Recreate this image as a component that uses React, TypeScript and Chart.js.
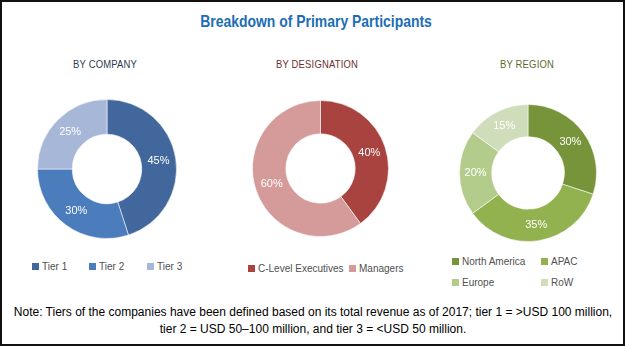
import React, { useEffect, useRef } from "react";
import { Chart, registerables } from "chart.js";

Chart.register(...registerables);

const titleText = "Breakdown of Primary Participants";

const companyTitle = "BY COMPANY";
const companyLabels = ["Tier 1", "Tier 2", "Tier 3"];
const companyValues = [45, 30, 25];
const companyColors = ["#41679C", "#4B7DBD", "#A7B7D7"];

const designationTitle = "BY DESIGNATION";
const designationLabels = ["C-Level Executives", "Managers"];
const designationValues = [40, 60];
const designationColors = ["#A8433F", "#D59A9A"];

const regionTitle = "BY REGION";
const regionLabels = ["North America", "APAC", "Europe", "RoW"];
const regionValues = [30, 35, 20, 15];
const regionColors = ["#78943A", "#92B24F", "#B4CC8B", "#D0DDBB"];

const noteLines = [
  "Note: Tiers of the companies have been defined based on its total revenue as of 2017; tier 1 = >USD 100 million,",
  "tier 2 = USD 50\u2013100 million, and tier 3 = <USD 50 million.",
];

const pctLabels = {
  id: "pctLabels",
  afterDatasetsDraw(chart: any) {
    const ctx = chart.ctx;
    const meta = chart.getDatasetMeta(0);
    const data = chart.data.datasets[0].data;
    meta.data.forEach((arc: any, i: number) => {
      const p = arc.tooltipPosition(false);
      ctx.save();
      ctx.fillStyle = "#ffffff";
      ctx.font = '11px "Liberation Sans", Arial, sans-serif';
      ctx.textAlign = "center";
      ctx.textBaseline = "middle";
      ctx.fillText(data[i] + "%", p.x, p.y);
      ctx.restore();
    });
  },
};

type DProps = {
  labels: string[];
  values: number[];
  colors: string[];
  size: number;
  left: number;
  top: number;
  cutout: string;
};

function Doughnut({ labels, values, colors, size, left, top, cutout }: DProps) {
  const ref = useRef<HTMLCanvasElement | null>(null);
  useEffect(() => {
    if (!ref.current) return;
    const chart = new Chart(ref.current, {
      type: "doughnut",
      data: {
        labels,
        datasets: [
          {
            data: values,
            backgroundColor: colors,
            borderColor: "rgba(255,255,255,0.55)",
            borderWidth: 1,
          },
        ],
      },
      options: {
        responsive: false,
        animation: false,
        cutout,
        layout: { padding: 0 },
        plugins: { legend: { display: false }, tooltip: { enabled: false } },
      },
      plugins: [pctLabels],
    });
    return () => chart.destroy();
  }, []);
  return (
    <canvas
      ref={ref}
      width={size}
      height={size}
      style={{ position: "absolute", left, top, width: size, height: size }}
    />
  );
}

const legendFont = '10px "Liberation Sans", Arial, sans-serif';

function LegendItem({ label, color, x, y }: { label: string; color: string; x: number; y: number }) {
  return (
    <div
      style={{
        position: "absolute",
        left: x,
        top: y - 7,
        height: 14,
        lineHeight: "14px",
        display: "flex",
        alignItems: "center",
        whiteSpace: "nowrap",
        font: legendFont,
        color: "#505050",
      }}
    >
      <span style={{ width: 7, height: 7, background: color, marginRight: 3, display: "inline-block" }} />
      <span>{label}</span>
    </div>
  );
}

function Heading({ text, cx, cy, color }: { text: string; cx: number; cy: number; color: string }) {
  return (
    <div
      style={{
        position: "absolute",
        left: cx - 100,
        width: 200,
        top: cy - 8,
        height: 16,
        lineHeight: "16px",
        textAlign: "center",
        font: '11px "Liberation Sans", Arial, sans-serif',
        letterSpacing: "0.2px",
        transform: "scaleX(0.86)",
        color,
      }}
    >
      {text}
    </div>
  );
}

export default function App() {
  const companyLegendX = [32, 89, 147];
  const designationLegendX = [248, 349];
  const regionLegendPos = [
    [452, 261],
    [541, 261],
    [452, 282],
    [541, 282],
  ];
  return (
    <div
      style={{
        position: "absolute",
        left: 0,
        top: 0,
        width: 625,
        height: 346,
        boxSizing: "border-box",
        border: "2px solid #111",
        background: "#fff",
        overflow: "hidden",
      }}
    >
      <div style={{ position: "absolute", left: -2, top: -2, width: 625, height: 346 }}>
        <div
          style={{
            position: "absolute",
            left: 0,
            width: 632,
            top: 12,
            height: 22,
            lineHeight: "22px",
            textAlign: "center",
            font: 'bold 17px "Liberation Sans", Arial, sans-serif',
            transform: "scaleX(0.82)",
            color: "#1C6DB5",
          }}
        >
          {titleText}
        </div>
        <Heading text={companyTitle} cx={104.5} cy={66} color="#2E3B4E" />
        <Heading text={designationTitle} cx={316.5} cy={66} color="#6B2F2F" />
        <Heading text={regionTitle} cx={527} cy={66} color="#5C6B2E" />

        <Doughnut labels={companyLabels} values={companyValues} colors={companyColors} size={140} left={37} top={99} cutout="50%" />
        <Doughnut labels={designationLabels} values={designationValues} colors={designationColors} size={137} left={252} top={100} cutout="51%" />
        <Doughnut labels={regionLabels} values={regionValues} colors={regionColors} size={138} left={459} top={104} cutout="53%" />

        {companyLabels.map((l, i) => (
          <LegendItem key={l} label={l} color={companyColors[i]} x={companyLegendX[i]} y={266} />
        ))}
        {designationLabels.map((l, i) => (
          <LegendItem key={l} label={l} color={designationColors[i]} x={designationLegendX[i]} y={268} />
        ))}
        {regionLabels.map((l, i) => (
          <LegendItem key={l} label={l} color={regionColors[i]} x={regionLegendPos[i][0]} y={regionLegendPos[i][1]} />
        ))}

        {noteLines.map((t, i) => (
          <div
            key={i}
            style={{
              position: "absolute",
              left: 0,
              width: 626,
              top: 305 + i * 16.5,
              height: 16,
              lineHeight: "16px",
              textAlign: "center",
              font: '12px "Liberation Sans", Arial, sans-serif',
              color: "#000",
              whiteSpace: "nowrap",
            }}
          >
            {t}
          </div>
        ))}
      </div>
    </div>
  );
}
